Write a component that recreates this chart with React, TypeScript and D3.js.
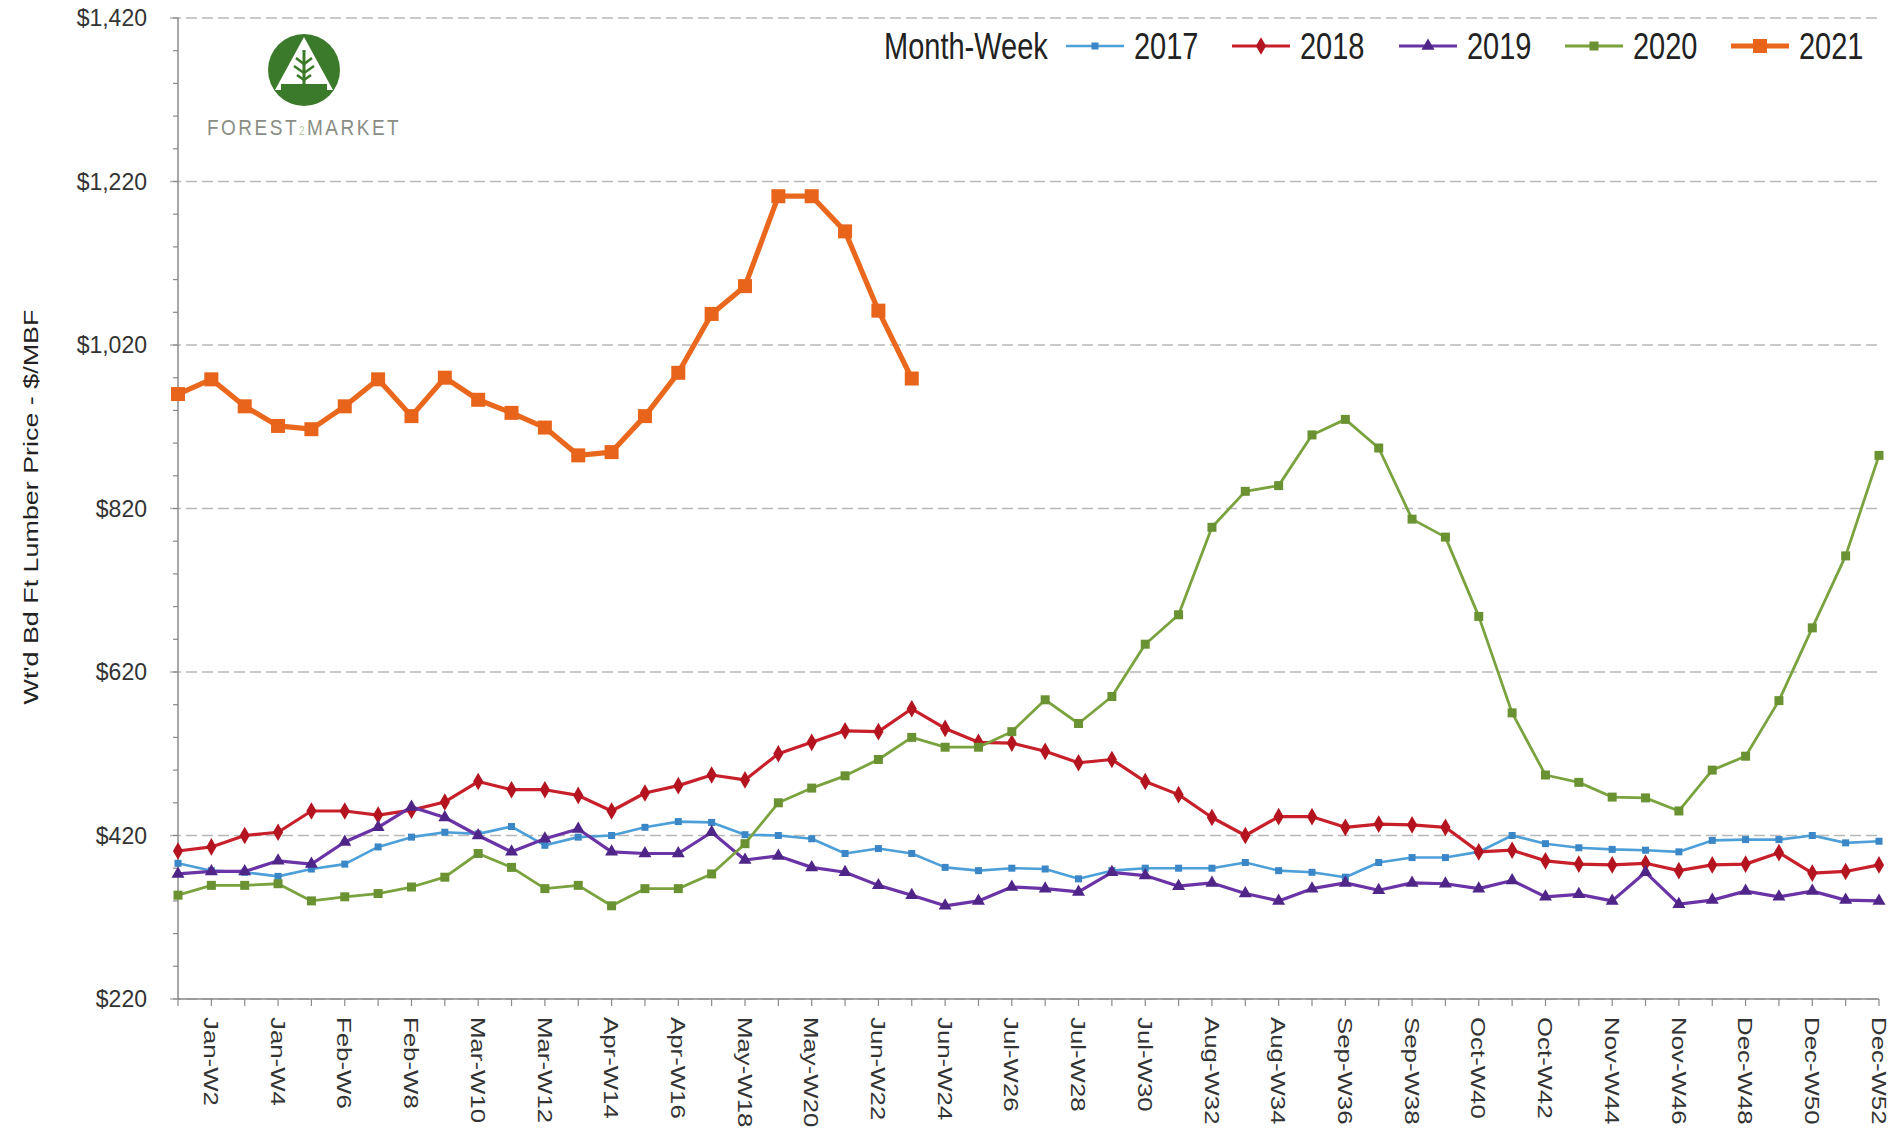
import React from 'react';
import * as d3 from 'd3';

const categories = [
  'Jan-W1','Jan-W2','Jan-W3','Jan-W4','Feb-W5','Feb-W6','Feb-W7','Feb-W8','Mar-W9','Mar-W10','Mar-W11','Mar-W12',
  'Apr-W13','Apr-W14','Apr-W15','Apr-W16','May-W17','May-W18','May-W19','May-W20','Jun-W21','Jun-W22','Jun-W23','Jun-W24',
  'Jul-W25','Jul-W26','Jul-W27','Jul-W28','Jul-W29','Jul-W30','Aug-W31','Aug-W32','Aug-W33','Aug-W34','Sep-W35','Sep-W36',
  'Sep-W37','Sep-W38','Oct-W39','Oct-W40','Oct-W41','Oct-W42','Nov-W43','Nov-W44','Nov-W45','Nov-W46','Dec-W47','Dec-W48',
  'Dec-W49','Dec-W50','Dec-W51','Dec-W52'
];

const xTickLabels = [
  'Jan-W2','Jan-W4','Feb-W6','Feb-W8','Mar-W10','Mar-W12','Apr-W14','Apr-W16','May-W18','May-W20','Jun-W22','Jun-W24',
  'Jul-W26','Jul-W28','Jul-W30','Aug-W32','Aug-W34','Sep-W36','Sep-W38','Oct-W40','Oct-W42','Nov-W44','Nov-W46',
  'Dec-W48','Dec-W50','Dec-W52'
];

const yTicks = [220, 420, 620, 820, 1020, 1220, 1420];

const values2017 = [
  386, 377, 375, 370, 379, 385, 406, 418, 424, 422, 431, 408, 418, 420, 430, 437, 436, 421, 420, 416, 398, 404, 398, 381, 377, 380,
  379, 367, 377, 380, 380, 380, 387, 377, 375, 369, 387, 393, 393, 400, 420, 410, 405, 403, 402, 400, 414, 415, 415, 420, 411, 413
];
const values2018 = [
  401, 406, 420, 424, 450, 450, 445, 451, 461, 486, 476, 476, 469, 450, 472, 481, 494, 488, 520, 534, 548, 547, 575, 551, 534, 533,
  523, 509, 513, 486, 470, 442, 420, 443, 443, 430, 434, 433, 430, 400, 402, 389, 385, 384, 386, 377, 384, 385, 399, 374, 376, 384
];
const values2019 = [
  373, 376, 376, 389, 385, 412, 430, 455, 442, 420, 400, 416, 428, 400, 398, 398, 424, 390, 395, 381, 375, 359, 347, 334, 340, 357,
  355, 351, 375, 371, 358, 362, 349, 340, 355, 362, 353, 362, 361, 355, 365, 345, 348, 340, 375, 336, 341, 352, 345, 352, 341, 340
];
const values2020 = [
  347, 359, 359, 361, 340, 345, 349, 357, 369, 398, 381, 355, 359, 334, 355, 355, 373, 410, 460, 478, 493, 513, 540, 528, 528, 547,
  586, 557, 590, 654, 690, 797, 841, 848, 910, 929, 894, 807, 785, 688, 570, 494, 485, 467, 466, 450, 500, 517, 585, 674, 762, 885
];
const values2021 = [
  960, 978, 945, 921, 917, 945, 978, 933, 980, 953, 937, 919, 885, 889, 933, 986, 1058, 1092, 1202, 1202, 1159, 1062, 979
];

type Marker = 'square' | 'diamond' | 'triangle';
interface Series { name: string; values: number[]; line: string; mark: string; width: number; marker: Marker; size: number; }

const series: Series[] = [
  { name: '2017', values: values2017, line: '#4d9fd8', mark: '#3a86c6', width: 2.6, marker: 'square', size: 7 },
  { name: '2018', values: values2018, line: '#c8202a', mark: '#b3141f', width: 3.2, marker: 'diamond', size: 10 },
  { name: '2019', values: values2019, line: '#6a33a6', mark: '#4f2588', width: 3.2, marker: 'triangle', size: 9 },
  { name: '2020', values: values2020, line: '#7aa23e', mark: '#6a9233', width: 2.8, marker: 'square', size: 9 },
  { name: '2021', values: values2021, line: '#ea681d', mark: '#e8641a', width: 5.2, marker: 'square', size: 14 },
];

const W = 1891, H = 1131;
const X0 = 178, X1 = 1879, Y0 = 999, Y1 = 18;

const x = d3.scalePoint<string>().domain(categories).range([X0, X1]).padding(0);
const y = d3.scaleLinear().domain([220, 1420]).range([Y0, Y1]);

function MarkerShape({ cx, cy, s }: { cx: number; cy: number; s: Series }) {
  if (s.marker === 'square') {
    return <rect x={cx - s.size / 2} y={cy - s.size / 2} width={s.size} height={s.size} fill={s.mark} />;
  }
  const type = s.marker === 'diamond' ? d3.symbolDiamond : d3.symbolTriangle;
  const path = d3.symbol().type(type).size(s.size * s.size * 0.9)() as string;
  return <path d={path} transform={`translate(${cx},${cy})`} fill={s.mark} />;
}

export default function App() {
  const line = d3.line<number>().x((_, i) => x(categories[i]) as number).y((d) => y(d));
  const minor = d3.range(220, 1421, 40);
  const legendX = [1066, 1232, 1399, 1565, 1731];
  const font = '"Liberation Sans", Arial, sans-serif';
  return (
    <svg width={W} height={H} style={{ position: 'absolute', left: 0, top: 0, background: '#fff' }} fontFamily={font}>
      <rect x={0} y={0} width={W} height={H} fill="#fff" />
      {/* gridlines */}
      {yTicks.map((t) => (
        <line key={'g' + t} x1={170} x2={1880} y1={y(t)} y2={y(t)} stroke="#b8b8b8" strokeWidth={1.6} strokeDasharray="11 5" />
      ))}
      {/* y axis */}
      <line x1={X0} x2={X0} y1={Y1} y2={Y0} stroke="#8a8a8a" strokeWidth={1.5} />
      {minor.map((t) => (
        <line key={'m' + t} x1={X0 - 5} x2={X0} y1={y(t)} y2={y(t)} stroke="#8a8a8a" strokeWidth={1.2} />
      ))}
      {yTicks.map((t) => (
        <text key={'yl' + t} x={147} y={y(t)} dy="0.36em" textAnchor="end" fontSize={23} fill="#333">
          {d3.format('$,')(t)}
        </text>
      ))}
      {/* x axis */}
      <line x1={X0} x2={X1} y1={Y0} y2={Y0} stroke="#8a8a8a" strokeWidth={1.5} />
      {categories.map((c) => (
        <line key={'xt' + c} x1={x(c)} x2={x(c)} y1={Y0} y2={Y0 + 7} stroke="#8a8a8a" strokeWidth={1.2} />
      ))}
      {xTickLabels.map((c) => (
        <text key={'xl' + c} transform={`translate(${x(c)},${1017}) rotate(90) scale(1.23,1)`} dy="0.35em" fontSize={21} fill="#333">
          {c}
        </text>
      ))}
      {/* y title */}
      <text transform={`translate(31,507) rotate(-90) scale(1.28,1)`} textAnchor="middle" dy="0.35em" fontSize={21} fill="#222">
        Wt'd Bd Ft Lumber Price - $/MBF
      </text>
      {/* series */}
      {series.map((s) => (
        <g key={s.name}>
          <path d={line(s.values) as string} fill="none" stroke={s.line} strokeWidth={s.width} strokeLinejoin="round" />
          {s.values.map((v, i) => (
            <MarkerShape key={i} cx={x(categories[i]) as number} cy={y(v)} s={s} />
          ))}
        </g>
      ))}
      {/* legend */}
      <text transform="translate(884,59) scale(1,1.27)" fontSize={29} fill="#222">Month-Week</text>
      {series.map((s, i) => (
        <g key={'lg' + s.name}>
          <line x1={legendX[i]} x2={legendX[i] + 58} y1={46} y2={46} stroke={s.line} strokeWidth={s.width} />
          <MarkerShape cx={legendX[i] + 29} cy={46} s={s} />
          <text transform={`translate(${legendX[i] + 68},59) scale(1,1.27)`} fontSize={29} fill="#222">{s.name}</text>
        </g>
      ))}
      {/* logo */}
      <g>
        <circle cx={304} cy={70} r={36} fill="#3b7a2a" />
        <path d="M304,37 L333,90 L275,90 Z" fill="#fff" />
        <rect x={281} y={84} width={46} height={6} fill="#3b7a2a" />
        <line x1={304} x2={304} y1={50} y2={85} stroke="#3b7a2a" strokeWidth={3} />
        <path d="M296,58 L304,64 L312,58 M294,66 L304,73 L314,66 M297,75 L304,80 L311,75" fill="none" stroke="#3b7a2a" strokeWidth={2.6} />
        <text x={207} y={135} fontSize={19} letterSpacing={2.5} fill="#8a8d84" transform="translate(0,-27) scale(1,1.2)">
          FOREST<tspan fill="#b5c9a0" fontSize={10}>2</tspan>MARKET
        </text>
      </g>
    </svg>
  );
}
